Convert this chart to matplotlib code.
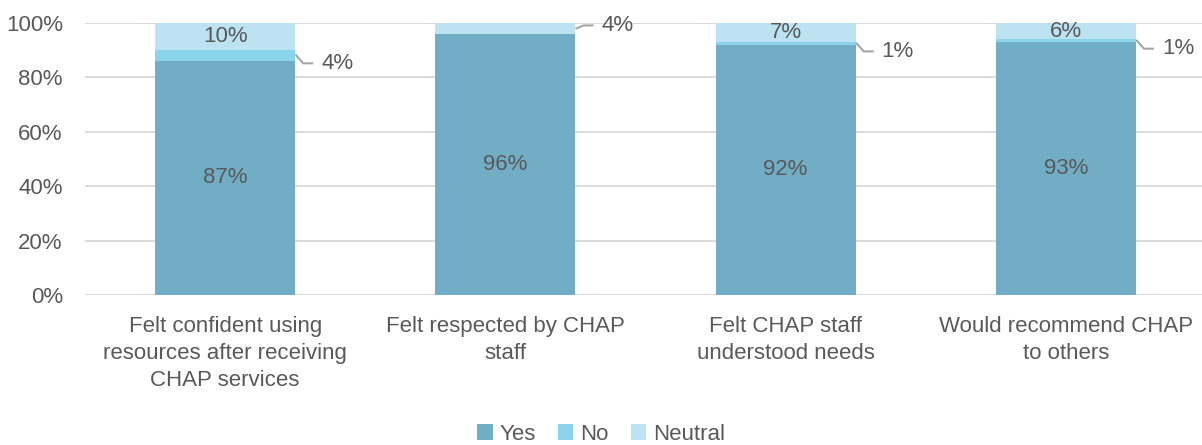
import matplotlib
matplotlib.use("Agg")
import matplotlib.pyplot as plt
from matplotlib.lines import Line2D
from matplotlib.transforms import IdentityTransform
import numpy as np

categories = ["Felt confident using\nresources after receiving\nCHAP services",
              "Felt respected by CHAP\nstaff",
              "Felt CHAP staff\nunderstood needs",
              "Would recommend CHAP\nto others"]
yes = [87, 96, 92, 93]
no = [4, 0, 1, 1]
neutral = [10, 4, 7, 6]
series_names = ["Yes", "No", "Neutral"]
colors = ["#71ADC4", "#8AD4EC", "#BDE3F2"]
text_color = "#595959"
FS = 16

plt.rcParams['font.family'] = ['Liberation Sans', 'DejaVu Sans']

fig = plt.figure(figsize=(12.02, 4.45), dpi=100)
ax = fig.add_axes([85/1202, 150/445, (1202-85)/1202, 272/445])

data = np.array([yes, no, neutral], dtype=float)
totals = data.sum(axis=0)
norm = data / totals * 100
x = np.arange(len(categories))
width = 0.5

ax.set_ylim(0, 100)
ax.set_xlim(-0.5, 3.5 - 4 / 280)

bottom = np.zeros(len(categories))
handles = []
outside = []
for s in range(3):
    h = ax.bar(x, norm[s], width, bottom=bottom, color=colors[s], label=series_names[s], zorder=3)
    handles.append(h)
    for i in range(len(categories)):
        v = data[s, i]
        if v <= 0:
            continue
        yc = bottom[i] + norm[s, i] / 2
        if v >= 5:
            ax.text(x[i], yc, f"{int(v)}%", ha='center', va='center', fontsize=FS,
                    color=text_color, zorder=4)
        else:
            outside.append((x[i] + width / 2, yc, v, -8 if s == 1 else 3))
    bottom += norm[s]

for xe, yc, v, dy in outside:
    px, py = ax.transData.transform((xe, yc))
    ln = Line2D([px + 1, px + 8, px + 17], [py, py + dy, py + dy], color='#A6A6A6', lw=1.5,
                transform=IdentityTransform(), zorder=5)
    fig.add_artist(ln)
    ax.annotate(f"{int(v)}%", xy=(xe, yc), xytext=(26, dy), textcoords='offset pixels',
                ha='left', va='center', fontsize=FS, color=text_color, zorder=5)

ax.set_yticks([0, 20, 40, 60, 80, 100])
ax.set_yticklabels([f"{t}%" for t in [0, 20, 40, 60, 80, 100]])
ax.yaxis.grid(True, color="#D9D9D9", lw=1.3, zorder=0)
ax.set_xticks(x)
ax.set_xticklabels(categories, linespacing=1.38)
ax.tick_params(axis='both', length=0, labelsize=FS, labelcolor=text_color)
ax.tick_params(axis='y', pad=16)
ax.tick_params(axis='x', pad=15)
for sp in ax.spines.values():
    sp.set_visible(False)

fig.legend(handles=handles, labels=series_names, loc='center', bbox_to_anchor=(0.5, 11 / 445),
           ncol=3, frameon=False, fontsize=FS, labelcolor=text_color,
           handlelength=0.7, handleheight=0.7, handletextpad=0.3, columnspacing=1.0,
           borderpad=0)

fig.savefig("out.png", dpi=100)
